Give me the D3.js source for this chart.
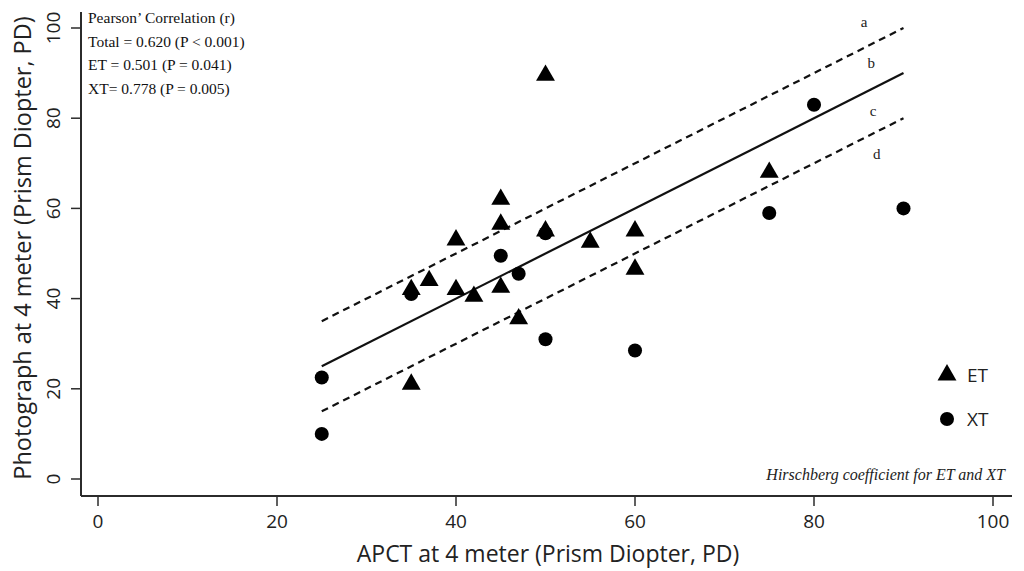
<!DOCTYPE html>
<html><head><meta charset="utf-8">
<script src="https://cdn.jsdelivr.net/npm/d3@7"></script>
<style>body{margin:0;background:#fff}svg{display:block}</style>
</head><body>
<svg id="c" width="1024" height="571"></svg>
<script>
// ---- data ----
const etX = [50, 45, 45, 40, 55, 60, 60, 37, 35, 40, 42, 45, 47, 35, 75, 50];
const etY = [89.5, 62, 56.5, 53, 52.5, 55, 46.5, 44, 42, 42, 40.5, 42.5, 35.5, 21, 68, 55];
const xtX = [80, 75, 90, 45, 47, 50, 60, 25, 25, 35, 50];
const xtY = [83, 59, 60, 49.5, 45.5, 31, 28.5, 22.5, 10, 41, 54.5];
const xTicks = [0, 20, 40, 60, 80, 100];
const yTicks = [0, 20, 40, 60, 80, 100];
const lineRange = [25, 90];          // x extent of reference lines
const lineOffsets = [10, 0, -10];    // y = x + offset
const lineLabels = ["a", "b", "c", "d"];
const statLines = ["Pearson’ Correlation (r)", "Total = 0.620 (P < 0.001)", "ET = 0.501 (P = 0.041)", "XT= 0.778 (P = 0.005)"];
const legendNames = ["ET", "XT"];

const svg = d3.select("#c");
const x = d3.scaleLinear().domain([0, 100]).range([98, 993]);
const y = d3.scaleLinear().domain([0, 100]).range([479, 28]);
const axCol = "#2b2b2b";
const sans = "'Open Sans', sans-serif";
const serif = "'Liberation Serif', 'Times New Roman', serif";

// axes lines
svg.append("line").attr("x1", 81).attr("x2", 1012).attr("y1", 496).attr("y2", 496).attr("stroke", axCol).attr("stroke-width", 2);
svg.append("line").attr("x1", 81).attr("x2", 81).attr("y1", 12).attr("y2", 496).attr("stroke", axCol).attr("stroke-width", 2);

// x ticks
const xg = svg.append("g");
xTicks.forEach(t => {
  xg.append("line").attr("x1", x(t)).attr("x2", x(t)).attr("y1", 496).attr("y2", 506).attr("stroke", axCol).attr("stroke-width", 1.5);
  xg.append("text").attr("x", x(t)).attr("y", 528).attr("text-anchor", "middle")
    .attr("font-family", sans).attr("font-size", 19).attr("fill", "#222").text(t);
});
// y ticks
const yg = svg.append("g");
yTicks.forEach(t => {
  yg.append("line").attr("x1", 71).attr("x2", 81).attr("y1", y(t)).attr("y2", y(t)).attr("stroke", axCol).attr("stroke-width", 1.5);
  yg.append("text").attr("transform", `translate(60,${y(t)}) rotate(-90)`).attr("text-anchor", "middle")
    .attr("font-family", sans).attr("font-size", 19).attr("fill", "#222").text(t);
});

// axis titles
svg.append("text").attr("x", 548).attr("y", 562).attr("text-anchor", "middle")
  .attr("font-family", sans).attr("font-size", 23).attr("fill", "#222").text("APCT at 4 meter (Prism Diopter, PD)");
svg.append("text").attr("transform", "translate(31,248) rotate(-90)").attr("text-anchor", "middle")
  .attr("font-family", sans).attr("font-size", 23.5).attr("fill", "#222").text("Photograph at 4 meter (Prism Diopter, PD)");

// reference lines
lineOffsets.forEach(o => {
  const l = d3.line().x(d => x(d)).y(d => y(d + o));
  svg.append("path").attr("d", l(lineRange)).attr("fill", "none").attr("stroke", "#111")
    .attr("stroke-width", 2.2).attr("stroke-dasharray", o === 0 ? null : "7,5");
});

// line labels a,b,c,d
const labelPos = [[85.6, 101.3], [86.4, 92.3], [86.6, 81.5], [87, 72]];
lineLabels.forEach((s, i) => {
  svg.append("text").attr("x", x(labelPos[i][0])).attr("y", y(labelPos[i][1]) + 5).attr("text-anchor", "middle")
    .attr("font-family", serif).attr("font-size", 15).attr("fill", "#222").text(s);
});

// markers
const tri = d3.symbol().type(d3.symbolTriangle).size(155);
const circ = d3.symbol().type(d3.symbolCircle).size(155);
svg.append("g").selectAll("path").data(xtX.map((v, i) => [v, xtY[i]])).join("path")
  .attr("d", circ).attr("transform", d => `translate(${x(d[0])},${y(d[1])})`).attr("fill", "#000");
svg.append("g").selectAll("path").data(etX.map((v, i) => [v, etY[i]])).join("path")
  .attr("d", tri).attr("transform", d => `translate(${x(d[0])},${y(d[1])})`).attr("fill", "#000");

// stats text
statLines.forEach((s, i) => {
  svg.append("text").attr("x", 88).attr("y", 23 + i * 23.5)
    .attr("font-family", serif).attr("font-size", 15.5).attr("fill", "#111").text(s);
});

// legend
const lg = svg.append("g");
legendNames.forEach((n, i) => {
  const ly = 375 + i * 44;
  lg.append("path").attr("d", i === 0 ? tri : circ).attr("transform", `translate(947,${ly})`).attr("fill", "#000");
  lg.append("text").attr("x", 967).attr("y", ly + 7).attr("font-family", sans).attr("font-size", 19).attr("fill", "#222").text(n);
});

// footnote
svg.append("text").attr("x", 1005).attr("y", 480).attr("text-anchor", "end")
  .attr("font-family", serif).attr("font-style", "italic").attr("font-size", 16).attr("fill", "#222")
  .text("Hirschberg coefficient for ET and XT");
</script>
</body></html>
